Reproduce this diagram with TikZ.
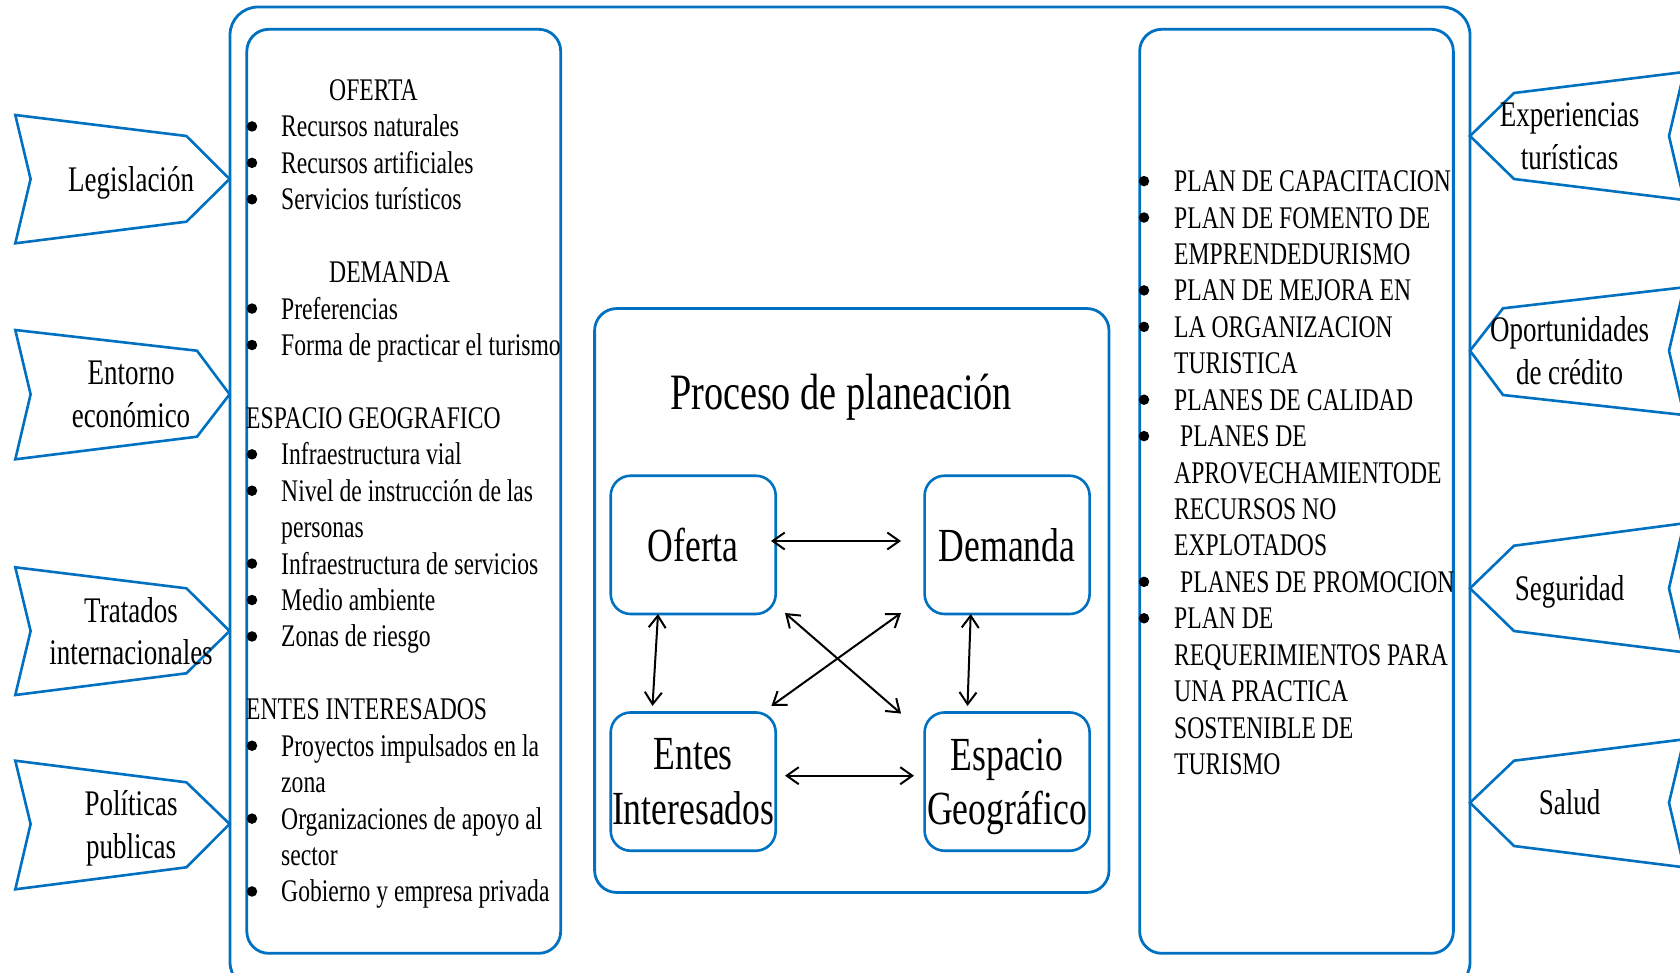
\documentclass[tikz,border=0pt]{standalone}
\usepackage{fontspec}
\setmainfont[FakeStretch=0.75]{Liberation Serif}
\usetikzlibrary{arrows.meta,calc}
\definecolor{wblue}{RGB}{0,112,192}
\newcommand\Lhead[4]{\node[listtxt] (#1) at (#2,{100.5+36.43*#3}) {#4};}
\newcommand\Litem[3]{\node[bul] (#1b) at (252,{90+36.43*#2}) {};\node[listtxt] (#1) at (281,{100.5+36.43*#2}) {#3};}
\newcommand\Lcont[3]{\node[listtxt] (#1) at (281,{100.5+36.43*#2}) {#3};}
\newcommand\Ritem[4]{\node[bul] (#1b) at (1144,{181.1+36.43*#2}) {};\node[listtxt] (#1) at (#3,{191.6+36.43*#2}) {#4};}
\newcommand\Rcont[3]{\node[listtxt] (#1) at (1174,{191.6+36.43*#2}) {#3};}
\begin{document}
\begin{tikzpicture}[x=1pt,y=-1pt,
  frame/.style={draw=wblue, line width=2.8pt, rectangle, inner sep=0pt, outer sep=0pt},
  pbox/.style={draw=wblue, line width=2.6pt, rectangle, rounded corners=20pt, minimum width=165pt, minimum height=138.3pt, inner sep=0pt, outer sep=0pt, align=center, text depth=0pt, font=\fontsize{47.5}{54.6}\selectfont},
  arr/.style={black, line width=2pt, {Straight Barb[length=12pt,width=17pt]}-{Straight Barb[length=12pt,width=17pt]}},
  listtxt/.style={anchor=base west, inner sep=0pt, font=\fontsize{31.5}{36.4}\selectfont},
  bul/.style={circle, fill=black, inner sep=0pt, minimum size=10.5pt},
  tag/.style={draw=wblue, line width=2.6pt, line join=miter, fill=white},
  taglbl/.style={align=center, inner sep=0pt, text depth=0pt, font=\fontsize{36}{43}\selectfont}]
\useasboundingbox (0,0) rectangle (1680,972);
\clip (0,0) rectangle (1680,972);
% frames
\node[frame, rounded corners=28pt, minimum width=1240pt, minimum height=983pt] (outer) at (850,498.5) {};
\node[frame, rounded corners=22pt, minimum width=313.9pt, minimum height=924pt] (leftbox) at (403.75,491.3) {};
\node[frame, rounded corners=22pt, minimum width=313.7pt, minimum height=924pt] (rightbox) at (1296.5,491.3) {};
\node[frame, rounded corners=22pt, minimum width=514.4pt, minimum height=583.9pt] (centerbox) at (851.8,600.5) {};
% left tags
\draw[tag] (15.3,115) -- (186.4,136) -- (229.6,179) -- (186.4,221.7) -- (15.3,243.3) -- (30.6,179) -- cycle;
\node[taglbl] (legis) at (131,179) {Legislación};
\draw[tag] (15.3,330) -- (197,350.7) -- (229.6,394.3) -- (197,436.7) -- (15.3,459.3) -- (30.6,394.3) -- cycle;
\node[taglbl] (entorno) at (131,394.5) {Entorno\\económico};
\draw[tag] (15.3,567.3) -- (186.4,588.3) -- (229.6,631) -- (186.4,673.3) -- (15.3,695) -- (30.6,631) -- cycle;
\node[taglbl] (tratados) at (131,631) {Tratados\\internacionales};
\draw[tag] (15.3,760.7) -- (186.4,782.3) -- (229.6,824) -- (186.4,867.3) -- (15.3,889.3) -- (30.6,824) -- cycle;
\node[taglbl] (politicas) at (131,824) {Políticas\\publicas};
% right tags
\draw[tag] (1470,136) -- (1514,93) -- (1684,72) -- (1669,136) -- (1684,200) -- (1514,179) -- cycle;
\node[taglbl] (exper) at (1569.6,136) {Experiencias\\turísticas};
\draw[tag] (1470,350.7) -- (1503,308.3) -- (1684,287.3) -- (1669,350.7) -- (1684,415) -- (1503,395) -- cycle;
\node[taglbl] (oport) at (1569.6,351) {Oportunidades\\de crédito};
\draw[tag] (1470,588.3) -- (1514,545.7) -- (1684,523.3) -- (1669,588.3) -- (1684,652.3) -- (1514,631) -- cycle;
\node[taglbl] (seg) at (1569.6,588) {Seguridad};
\draw[tag] (1470,802.7) -- (1514,760.7) -- (1684,739.3) -- (1669,802.7) -- (1684,867.3) -- (1514,846) -- cycle;
\node[taglbl] (salud) at (1569.6,802) {Salud};
% left list
\Lhead{L0}{329}{0}{OFERTA}
\Litem{L1}{1}{Recursos naturales}
\Litem{L2}{2}{Recursos artificiales}
\Litem{L3}{3}{Servicios turísticos}
\Lhead{L5}{329}{5}{DEMANDA}
\Litem{L6}{6}{Preferencias}
\Litem{L7}{7}{Forma de practicar el turismo}
\Lhead{L9}{246}{9}{ESPACIO GEOGRAFICO}
\Litem{L10}{10}{Infraestructura vial}
\Litem{L11}{11}{Nivel de instrucción de las}
\Lcont{L12}{12}{personas}
\Litem{L13}{13}{Infraestructura de servicios}
\Litem{L14}{14}{Medio ambiente}
\Litem{L15}{15}{Zonas de riesgo}
\Lhead{L17}{246}{17}{ENTES INTERESADOS}
\Litem{L18}{18}{Proyectos impulsados en la}
\Lcont{L19}{19}{zona}
\Litem{L20}{20}{Organizaciones de apoyo al}
\Lcont{L21}{21}{sector}
\Litem{L22}{22}{Gobierno y empresa privada}
% right list
\Ritem{R0}{0}{1174}{PLAN DE CAPACITACION}
\Ritem{R1}{1}{1174}{PLAN DE FOMENTO DE}
\Rcont{R2}{2}{EMPRENDEDURISMO}
\Ritem{R3}{3}{1174}{PLAN DE MEJORA EN}
\Ritem{R4}{4}{1174}{LA ORGANIZACION}
\Rcont{R5}{5}{TURISTICA}
\Ritem{R6}{6}{1174}{PLANES DE CALIDAD}
\Ritem{R7}{7}{1180}{PLANES DE}
\Rcont{R8}{8}{APROVECHAMIENTODE}
\Rcont{R9}{9}{RECURSOS NO}
\Rcont{R10}{10}{EXPLOTADOS}
\Ritem{R11}{11}{1180}{PLANES DE PROMOCION}
\Ritem{R12}{12}{1174}{PLAN DE}
\Rcont{R13}{13}{REQUERIMIENTOS PARA}
\Rcont{R14}{14}{UNA PRACTICA}
\Rcont{R15}{15}{SOSTENIBLE DE}
\Rcont{R16}{16}{TURISMO}
% center
\node[anchor=base, inner sep=0pt, font=\fontsize{51}{54.6}\selectfont] (title) at (841,409) {Proceso de planeación};
\node[pbox] (oferta) at (693.2,544.85) {Oferta};
\node[pbox] (demanda) at (1007.1,544.85) {Demanda};
\node[pbox] (entes) at (693.2,781.6) {Entes\\Interesados};
\node[pbox] (espacio) at (1007.1,781.6) {Espacio\\Geográfico};
\draw[arr] ($(oferta.east)+(-4.7,-3.85)$) -- ($(demanda.west)+(-23.6,-3.85)$);
\draw[arr] ($(oferta.south)+(-35.2,0)$) -- ($(entes.north)+(-40.7,-6.5)$);
\draw[arr] ($(demanda.south)+(-36.4,0)$) -- ($(espacio.north)+(-39.6,-6.5)$);
\draw[arr] ($(oferta.south east)+(9.3,-1)$) -- ($(espacio.north west)+(-23.6,1.1)$);
\draw[arr] ($(demanda.south west)+(-23.6,-1)$) -- ($(entes.north east)+(-4.3,-6.5)$);
\draw[arr] ($(entes.east)+(9.3,-5.9)$) -- ($(espacio.west)+(-10.6,-5.9)$);
\end{tikzpicture}
\end{document}
